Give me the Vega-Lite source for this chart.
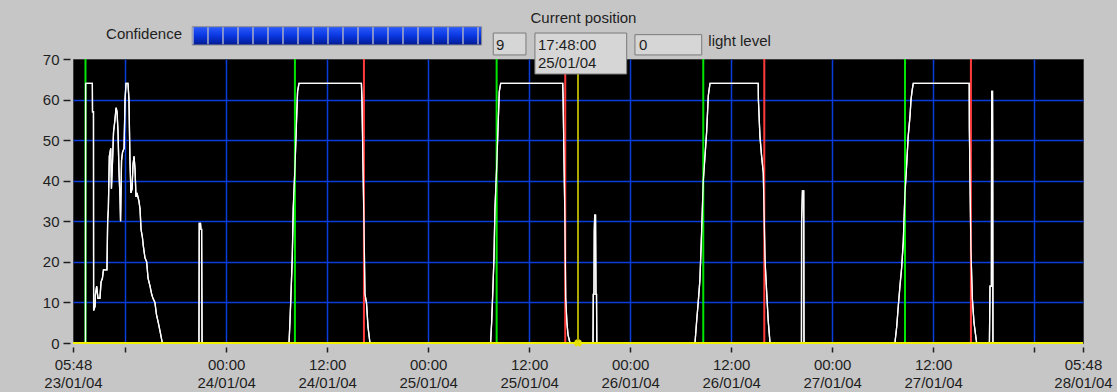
{
  "$schema": "https://vega.github.io/schema/vega-lite/v6.json",
  "width": 1010,
  "height": 284,
  "autosize": {"type": "none"},
  "padding": {"left": 73, "top": 59, "right": 34, "bottom": 49},
  "background": "#c6c6c6",
  "view": {"fill": "#000000", "stroke": "#3c3c3c", "strokeWidth": 1},
  "config": {"font": "Liberation Sans"},
  "datasets": {
    "light": [
      {"time": "2004-01-23T05:48:00", "level": 0},
      {"time": "2004-01-23T07:17:00", "level": 0},
      {"time": "2004-01-23T07:18:00", "level": 64},
      {"time": "2004-01-23T08:06:00", "level": 64},
      {"time": "2004-01-23T08:07:00", "level": 57},
      {"time": "2004-01-23T08:14:00", "level": 57},
      {"time": "2004-01-23T08:15:00", "level": 8},
      {"time": "2004-01-23T08:25:00", "level": 9},
      {"time": "2004-01-23T08:28:00", "level": 12},
      {"time": "2004-01-23T08:37:00", "level": 14},
      {"time": "2004-01-23T08:46:00", "level": 11},
      {"time": "2004-01-23T09:00:00", "level": 11},
      {"time": "2004-01-23T09:08:00", "level": 15},
      {"time": "2004-01-23T09:18:00", "level": 16},
      {"time": "2004-01-23T09:25:00", "level": 18},
      {"time": "2004-01-23T09:50:00", "level": 18},
      {"time": "2004-01-23T09:55:00", "level": 30},
      {"time": "2004-01-23T10:00:00", "level": 33},
      {"time": "2004-01-23T10:07:00", "level": 46},
      {"time": "2004-01-23T10:17:00", "level": 48},
      {"time": "2004-01-23T10:22:00", "level": 38},
      {"time": "2004-01-23T10:30:00", "level": 45},
      {"time": "2004-01-23T10:37:00", "level": 52},
      {"time": "2004-01-23T10:47:00", "level": 55},
      {"time": "2004-01-23T10:55:00", "level": 58},
      {"time": "2004-01-23T11:02:00", "level": 57},
      {"time": "2004-01-23T11:09:00", "level": 52},
      {"time": "2004-01-23T11:16:00", "level": 42},
      {"time": "2004-01-23T11:23:00", "level": 36},
      {"time": "2004-01-23T11:27:00", "level": 30},
      {"time": "2004-01-23T11:34:00", "level": 45},
      {"time": "2004-01-23T11:41:00", "level": 47},
      {"time": "2004-01-23T11:52:00", "level": 48},
      {"time": "2004-01-23T11:59:00", "level": 60},
      {"time": "2004-01-23T12:06:00", "level": 64},
      {"time": "2004-01-23T12:20:00", "level": 64},
      {"time": "2004-01-23T12:27:00", "level": 60},
      {"time": "2004-01-23T12:34:00", "level": 45},
      {"time": "2004-01-23T12:41:00", "level": 37},
      {"time": "2004-01-23T12:49:00", "level": 38},
      {"time": "2004-01-23T12:56:00", "level": 44},
      {"time": "2004-01-23T13:03:00", "level": 46},
      {"time": "2004-01-23T13:10:00", "level": 43},
      {"time": "2004-01-23T13:17:00", "level": 36},
      {"time": "2004-01-23T13:24:00", "level": 37},
      {"time": "2004-01-23T13:38:00", "level": 35},
      {"time": "2004-01-23T13:46:00", "level": 33},
      {"time": "2004-01-23T13:53:00", "level": 28},
      {"time": "2004-01-23T14:03:00", "level": 26},
      {"time": "2004-01-23T14:09:00", "level": 24},
      {"time": "2004-01-23T14:21:00", "level": 21},
      {"time": "2004-01-23T14:33:00", "level": 20},
      {"time": "2004-01-23T14:43:00", "level": 16},
      {"time": "2004-01-23T14:57:00", "level": 14},
      {"time": "2004-01-23T15:09:00", "level": 12},
      {"time": "2004-01-23T15:18:00", "level": 11},
      {"time": "2004-01-23T15:32:00", "level": 10},
      {"time": "2004-01-23T15:43:00", "level": 7},
      {"time": "2004-01-23T15:56:00", "level": 5},
      {"time": "2004-01-23T16:08:00", "level": 3},
      {"time": "2004-01-23T16:25:00", "level": 0},
      {"time": "2004-01-23T20:46:00", "level": 0},
      {"time": "2004-01-23T20:48:00", "level": 29.5},
      {"time": "2004-01-23T20:57:00", "level": 29.5},
      {"time": "2004-01-23T21:00:00", "level": 28},
      {"time": "2004-01-23T21:05:00", "level": 28},
      {"time": "2004-01-23T21:08:00", "level": 0},
      {"time": "2004-01-24T07:28:00", "level": 0},
      {"time": "2004-01-24T07:35:00", "level": 5.5},
      {"time": "2004-01-24T07:42:00", "level": 12},
      {"time": "2004-01-24T07:51:00", "level": 21},
      {"time": "2004-01-24T07:58:00", "level": 33},
      {"time": "2004-01-24T08:10:00", "level": 43},
      {"time": "2004-01-24T08:20:00", "level": 53.5},
      {"time": "2004-01-24T08:29:00", "level": 62},
      {"time": "2004-01-24T08:39:00", "level": 64},
      {"time": "2004-01-24T16:04:00", "level": 64},
      {"time": "2004-01-24T16:08:00", "level": 60},
      {"time": "2004-01-24T16:15:00", "level": 45},
      {"time": "2004-01-24T16:22:00", "level": 30},
      {"time": "2004-01-24T16:29:00", "level": 12},
      {"time": "2004-01-24T16:40:00", "level": 10},
      {"time": "2004-01-24T16:51:00", "level": 4},
      {"time": "2004-01-24T17:05:00", "level": 0},
      {"time": "2004-01-25T07:25:00", "level": 0},
      {"time": "2004-01-25T07:33:00", "level": 5.5},
      {"time": "2004-01-25T07:40:00", "level": 12},
      {"time": "2004-01-25T07:49:00", "level": 21},
      {"time": "2004-01-25T07:56:00", "level": 33},
      {"time": "2004-01-25T08:08:00", "level": 43},
      {"time": "2004-01-25T08:18:00", "level": 53.5},
      {"time": "2004-01-25T08:27:00", "level": 62},
      {"time": "2004-01-25T08:37:00", "level": 64},
      {"time": "2004-01-25T15:59:00", "level": 64},
      {"time": "2004-01-25T16:02:00", "level": 60},
      {"time": "2004-01-25T16:15:00", "level": 30},
      {"time": "2004-01-25T16:20:00", "level": 11},
      {"time": "2004-01-25T16:29:00", "level": 5},
      {"time": "2004-01-25T16:37:00", "level": 2},
      {"time": "2004-01-25T16:51:00", "level": 0},
      {"time": "2004-01-25T19:35:00", "level": 0},
      {"time": "2004-01-25T19:37:00", "level": 12},
      {"time": "2004-01-25T19:42:00", "level": 12},
      {"time": "2004-01-25T19:44:00", "level": 27.5},
      {"time": "2004-01-25T19:47:00", "level": 31.5},
      {"time": "2004-01-25T19:53:00", "level": 31.5},
      {"time": "2004-01-25T19:56:00", "level": 12},
      {"time": "2004-01-25T20:00:00", "level": 12},
      {"time": "2004-01-25T20:02:00", "level": 0},
      {"time": "2004-01-26T07:42:00", "level": 0},
      {"time": "2004-01-26T07:54:00", "level": 5.5},
      {"time": "2004-01-26T08:05:00", "level": 10},
      {"time": "2004-01-26T08:17:00", "level": 15.5},
      {"time": "2004-01-26T08:30:00", "level": 28},
      {"time": "2004-01-26T08:41:00", "level": 40},
      {"time": "2004-01-26T08:53:00", "level": 46},
      {"time": "2004-01-26T09:05:00", "level": 52},
      {"time": "2004-01-26T09:17:00", "level": 61},
      {"time": "2004-01-26T09:29:00", "level": 64},
      {"time": "2004-01-26T15:13:00", "level": 64},
      {"time": "2004-01-26T15:14:00", "level": 60},
      {"time": "2004-01-26T15:25:00", "level": 51},
      {"time": "2004-01-26T15:37:00", "level": 46},
      {"time": "2004-01-26T15:49:00", "level": 42},
      {"time": "2004-01-26T16:01:00", "level": 20.5},
      {"time": "2004-01-26T16:13:00", "level": 12.5},
      {"time": "2004-01-26T16:24:00", "level": 5.5},
      {"time": "2004-01-26T16:37:00", "level": 0},
      {"time": "2004-01-26T20:21:00", "level": 0},
      {"time": "2004-01-26T20:22:00", "level": 30},
      {"time": "2004-01-26T20:28:00", "level": 37.5},
      {"time": "2004-01-26T20:37:00", "level": 37.5},
      {"time": "2004-01-26T20:39:00", "level": 0},
      {"time": "2004-01-27T07:27:00", "level": 0},
      {"time": "2004-01-27T07:40:00", "level": 4},
      {"time": "2004-01-27T07:51:00", "level": 9},
      {"time": "2004-01-27T08:03:00", "level": 14},
      {"time": "2004-01-27T08:15:00", "level": 18.5},
      {"time": "2004-01-27T08:27:00", "level": 25},
      {"time": "2004-01-27T08:39:00", "level": 37},
      {"time": "2004-01-27T08:51:00", "level": 44},
      {"time": "2004-01-27T09:02:00", "level": 51},
      {"time": "2004-01-27T09:15:00", "level": 56},
      {"time": "2004-01-27T09:22:00", "level": 60},
      {"time": "2004-01-27T09:29:00", "level": 62},
      {"time": "2004-01-27T09:38:00", "level": 64},
      {"time": "2004-01-27T16:17:00", "level": 64},
      {"time": "2004-01-27T16:18:00", "level": 53},
      {"time": "2004-01-27T16:29:00", "level": 23},
      {"time": "2004-01-27T16:39:00", "level": 11},
      {"time": "2004-01-27T16:51:00", "level": 5},
      {"time": "2004-01-27T17:10:00", "level": 0},
      {"time": "2004-01-27T18:41:00", "level": 0},
      {"time": "2004-01-27T18:45:00", "level": 14},
      {"time": "2004-01-27T18:55:00", "level": 14},
      {"time": "2004-01-27T18:57:00", "level": 62},
      {"time": "2004-01-27T19:03:00", "level": 62},
      {"time": "2004-01-27T19:04:00", "level": 50},
      {"time": "2004-01-27T19:06:00", "level": 0},
      {"time": "2004-01-28T05:48:00", "level": 0}
    ],
    "events": [
      {"time": "2004-01-23T07:17:00", "event": "sunrise"},
      {"time": "2004-01-24T08:10:00", "event": "sunrise"},
      {"time": "2004-01-25T08:08:00", "event": "sunrise"},
      {"time": "2004-01-26T08:41:00", "event": "sunrise"},
      {"time": "2004-01-27T08:39:00", "event": "sunrise"},
      {"time": "2004-01-24T16:22:00", "event": "sunset"},
      {"time": "2004-01-25T16:17:00", "event": "sunset"},
      {"time": "2004-01-26T15:56:00", "event": "sunset"},
      {"time": "2004-01-27T16:29:00", "event": "sunset"}
    ],
    "cursor": [
      {"time": "2004-01-25T17:48:00", "level": 0, "confidence": 9}
    ]
  },
  "layer": [
    {
      "data": {"name": "light"},
      "mark": {"type": "line", "color": "#ffffff", "strokeWidth": 1.3},
      "encoding": {
        "x": {
          "field": "time", "type": "temporal",
          "scale": {"domain": [{"year": 2004, "month": 1, "date": 23, "hours": 5, "minutes": 48}, {"year": 2004, "month": 1, "date": 28, "hours": 5, "minutes": 48}], "nice": false},
          "axis": {
            "title": null,
            "values": [
              {"year": 2004, "month": 1, "date": 23, "hours": 5, "minutes": 48},
              {"year": 2004, "month": 1, "date": 23, "hours": 12},
              {"year": 2004, "month": 1, "date": 24, "hours": 0},
              {"year": 2004, "month": 1, "date": 24, "hours": 12},
              {"year": 2004, "month": 1, "date": 25, "hours": 0},
              {"year": 2004, "month": 1, "date": 25, "hours": 12},
              {"year": 2004, "month": 1, "date": 26, "hours": 0},
              {"year": 2004, "month": 1, "date": 26, "hours": 12},
              {"year": 2004, "month": 1, "date": 27, "hours": 0},
              {"year": 2004, "month": 1, "date": 27, "hours": 12},
              {"year": 2004, "month": 1, "date": 28, "hours": 0},
              {"year": 2004, "month": 1, "date": 28, "hours": 5, "minutes": 48}
            ],
            "domain": false,
            "offset": 4,
            "tickSize": 5,
            "tickColor": "#1e1e1e",
            "tickWidth": 1.5,
            "labelExpr": "((date(datum.value) == 23 && hours(datum.value) == 12) || (date(datum.value) == 28 && hours(datum.value) == 0)) ? '' : [timeFormat(datum.value, '%H:%M'), timeFormat(datum.value, '%d/%m/%y')]",
            "labelFontSize": 15,
            "labelColor": "#1e1e1e",
            "labelPadding": 5,
            "labelLineHeight": 18,
            "labelOverlap": false,
            "labelFlush": false,
            "labelBound": false,
            "grid": true,
            "gridColor": "#0a3cdc",
            "gridWidth": 1.5,
            "gridOpacity": {"condition": {"test": "minutes(datum.value) == 48", "value": 0}, "value": 1}
          }
        },
        "y": {
          "field": "level", "type": "quantitative",
          "scale": {"domain": [0, 70], "nice": false},
          "axis": {
            "title": null,
            "values": [0, 10, 20, 30, 40, 50, 60, 70],
            "domain": false,
            "offset": 3,
            "tickSize": 7,
            "tickColor": "#1e1e1e",
            "tickWidth": 1.5,
            "labelFontSize": 15,
            "labelColor": "#1e1e1e",
            "labelPadding": 4,
            "grid": true,
            "gridColor": "#0a3cdc",
            "gridWidth": 1.5,
            "gridOpacity": {"condition": {"test": "datum.value == 70 || datum.value == 0", "value": 0}, "value": 1}
          }
        }
      }
    },
    {
      "data": {"name": "events"},
      "mark": {"type": "rule", "strokeWidth": 2},
      "encoding": {
        "x": {"field": "time", "type": "temporal"},
        "color": {"field": "event", "type": "nominal", "scale": {"domain": ["sunrise", "sunset"], "range": ["#00e600", "#ff3c3c"]}, "legend": null}
      }
    },
    {
      "data": {"name": "light"},
      "mark": {"type": "line", "color": "#ffffff", "strokeWidth": 1.3},
      "encoding": {
        "x": {"field": "time", "type": "temporal"},
        "y": {"field": "level", "type": "quantitative"}
      }
    },
    {
      "data": {"name": "cursor"},
      "mark": {"type": "rule", "color": "#f0f000", "strokeWidth": 2},
      "encoding": {"y": {"datum": 0, "type": "quantitative"}}
    },
    {
      "data": {"name": "cursor"},
      "mark": {"type": "rule", "color": "#e6e000", "strokeWidth": 1.5},
      "encoding": {"x": {"field": "time", "type": "temporal"}}
    },
    {
      "data": {"name": "cursor"},
      "mark": {"type": "point", "shape": "cross", "angle": 45, "filled": true, "size": 60, "color": "#e6e000", "opacity": 1},
      "encoding": {
        "x": {"field": "time", "type": "temporal"},
        "y": {"field": "level", "type": "quantitative"}
      }
    },
    {
      "data": {"name": "cursor"},
      "mark": {"type": "text", "align": "center", "baseline": "alphabetic", "fontSize": 15, "color": "#1e1e1e"},
      "encoding": {
        "x": {"datum": {"year": 2004, "month": 1, "date": 25, "hours": 18, "minutes": 27}, "type": "temporal"},
        "y": {"datum": 78.8, "type": "quantitative"},
        "text": {"value": "Current position"}
      }
    },
    {
      "data": {"name": "cursor"},
      "mark": {"type": "text", "align": "right", "baseline": "alphabetic", "fontSize": 15, "color": "#1e1e1e"},
      "encoding": {
        "x": {"datum": {"year": 2004, "month": 1, "date": 23, "hours": 18, "minutes": 45}, "type": "temporal"},
        "y": {"datum": 74.9, "type": "quantitative"},
        "text": {"value": "Confidence"}
      }
    },
    {
      "data": {"name": "cursor"},
      "mark": {
        "type": "rect",
        "stroke": "#8c8c8c",
        "strokeWidth": 1,
        "fill": {"gradient": "linear", "x1": 0, "y1": 0, "x2": 0, "y2": 1, "stops": [{"offset": 0, "color": "#2a5cff"}, {"offset": 0.5, "color": "#0a36e0"}, {"offset": 1, "color": "#001a90"}]}
      },
      "encoding": {
        "x": {"datum": {"year": 2004, "month": 1, "date": 23, "hours": 19, "minutes": 58}, "type": "temporal"},
        "x2": {"datum": {"year": 2004, "month": 1, "date": 25, "hours": 6, "minutes": 21}},
        "y": {"datum": 77.96, "type": "quantitative"},
        "y2": {"datum": 73.45}
      }
    },
    {
      "data": {"name": "cursor"},
      "mark": {"type": "rule", "color": "#a8acc8", "strokeWidth": 17, "strokeDash": [1.5, 13.5]},
      "encoding": {
        "x": {"datum": {"year": 2004, "month": 1, "date": 23, "hours": 19, "minutes": 58}, "type": "temporal"},
        "x2": {"datum": {"year": 2004, "month": 1, "date": 25, "hours": 6, "minutes": 21}},
        "y": {"datum": 75.7, "type": "quantitative"}
      }
    },
    {
      "data": {"name": "cursor"},
      "mark": {"type": "rect", "fill": "#d6d6d6", "stroke": "#7a7a7a", "strokeWidth": 1},
      "encoding": {
        "x": {"datum": {"year": 2004, "month": 1, "date": 25, "hours": 7, "minutes": 44}, "type": "temporal"},
        "x2": {"datum": {"year": 2004, "month": 1, "date": 25, "hours": 11, "minutes": 37}},
        "y": {"datum": 76.4, "type": "quantitative"},
        "y2": {"datum": 71.0}
      }
    },
    {
      "data": {"name": "cursor"},
      "mark": {"type": "rect", "fill": "#d6d6d6", "stroke": "#7a7a7a", "strokeWidth": 1},
      "encoding": {
        "x": {"datum": {"year": 2004, "month": 1, "date": 25, "hours": 12, "minutes": 41}, "type": "temporal"},
        "x2": {"datum": {"year": 2004, "month": 1, "date": 25, "hours": 23, "minutes": 35}},
        "y": {"datum": 76.4, "type": "quantitative"},
        "y2": {"datum": 66.3}
      }
    },
    {
      "data": {"name": "cursor"},
      "mark": {"type": "rect", "fill": "#d6d6d6", "stroke": "#7a7a7a", "strokeWidth": 1},
      "encoding": {
        "x": {"datum": {"year": 2004, "month": 1, "date": 26, "hours": 0, "minutes": 34}, "type": "temporal"},
        "x2": {"datum": {"year": 2004, "month": 1, "date": 26, "hours": 8, "minutes": 30}},
        "y": {"datum": 76.0, "type": "quantitative"},
        "y2": {"datum": 71.0}
      }
    },
    {
      "data": {"name": "cursor"},
      "mark": {"type": "text", "align": "left", "baseline": "alphabetic", "fontSize": 15, "color": "#1e1e1e"},
      "encoding": {
        "x": {"datum": {"year": 2004, "month": 1, "date": 25, "hours": 8, "minutes": 3}, "type": "temporal"},
        "y": {"datum": 72.1, "type": "quantitative"},
        "text": {"field": "confidence", "type": "quantitative"}
      }
    },
    {
      "data": {"name": "cursor"},
      "mark": {"type": "text", "align": "left", "baseline": "alphabetic", "fontSize": 15, "color": "#1e1e1e"},
      "encoding": {
        "x": {"datum": {"year": 2004, "month": 1, "date": 25, "hours": 13, "minutes": 3}, "type": "temporal"},
        "y": {"datum": 72.1, "type": "quantitative"},
        "text": {"field": "time", "type": "temporal", "format": "%H:%M:%S"}
      }
    },
    {
      "data": {"name": "cursor"},
      "mark": {"type": "text", "align": "left", "baseline": "alphabetic", "fontSize": 15, "color": "#1e1e1e"},
      "encoding": {
        "x": {"datum": {"year": 2004, "month": 1, "date": 25, "hours": 13, "minutes": 3}, "type": "temporal"},
        "y": {"datum": 67.7, "type": "quantitative"},
        "text": {"field": "time", "type": "temporal", "format": "%d/%m/%y"}
      }
    },
    {
      "data": {"name": "cursor"},
      "mark": {"type": "text", "align": "left", "baseline": "alphabetic", "fontSize": 15, "color": "#1e1e1e"},
      "encoding": {
        "x": {"datum": {"year": 2004, "month": 1, "date": 26, "hours": 1, "minutes": 3}, "type": "temporal"},
        "y": {"datum": 72.1, "type": "quantitative"},
        "text": {"field": "level", "type": "quantitative"}
      }
    },
    {
      "data": {"name": "cursor"},
      "mark": {"type": "text", "align": "left", "baseline": "alphabetic", "fontSize": 15, "color": "#1e1e1e"},
      "encoding": {
        "x": {"datum": {"year": 2004, "month": 1, "date": 26, "hours": 9, "minutes": 17}, "type": "temporal"},
        "y": {"datum": 73.2, "type": "quantitative"},
        "text": {"value": "light level"}
      }
    }
  ]
}
